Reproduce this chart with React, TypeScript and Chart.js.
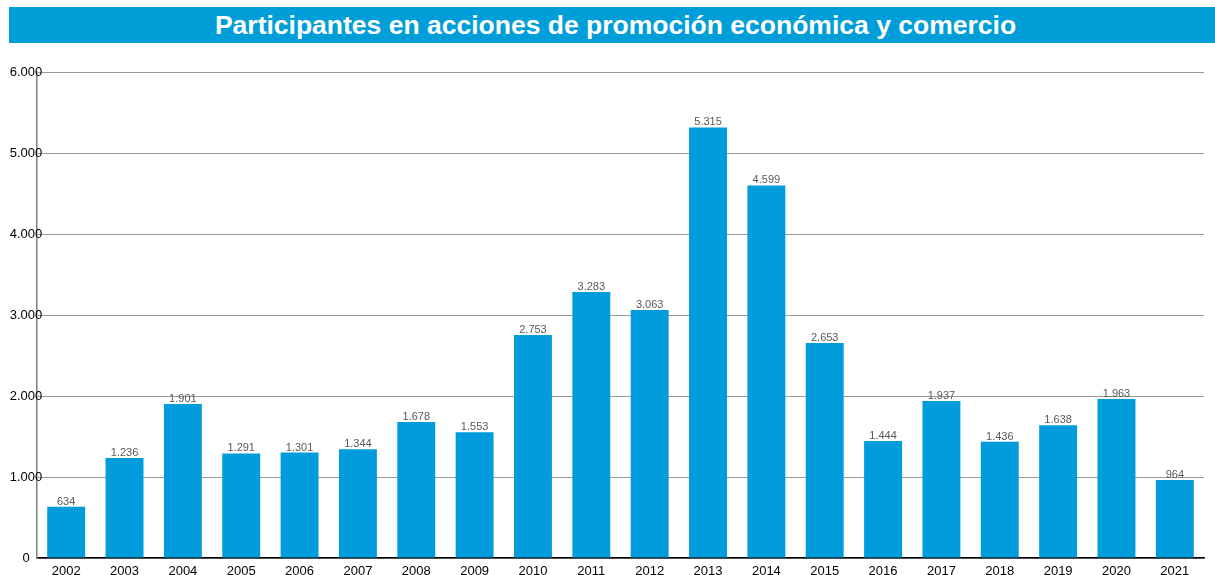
import React, { useEffect, useRef } from "react";
import { Chart, registerables } from "chart.js";

Chart.register(...registerables);

const TITLE = "Participantes en acciones de promoción económica y comercio";
const YEARS = ["2002","2003","2004","2005","2006","2007","2008","2009","2010","2011","2012","2013","2014","2015","2016","2017","2018","2019","2020","2021"];
const PARTICIPANTS = [634,1236,1901,1291,1301,1344,1678,1553,2753,3283,3063,5315,4599,2653,1444,1937,1436,1638,1963,964];
const Y_TICKS = [0,1000,2000,3000,4000,5000,6000];

const fmt = (v: number) => v.toString().replace(/\B(?=(\d{3})+(?!\d))/g, ".");

const FONT = "'Liberation Sans', Arial, sans-serif";

const valueLabels = {
  id: "valueLabels",
  afterDatasetsDraw(chart: any) {
    const ctx = chart.ctx;
    const meta = chart.getDatasetMeta(0);
    ctx.save();
    ctx.font = `11px ${FONT}`;
    ctx.fillStyle = "#595959";
    ctx.textAlign = "center";
    ctx.textBaseline = "alphabetic";
    meta.data.forEach((bar: any, i: number) => {
      ctx.fillText(fmt(PARTICIPANTS[i]), bar.x, bar.y - 2);
    });
    ctx.restore();
  },
};

const yLabels = {
  id: "yLabels",
  afterDraw(chart: any) {
    const ctx = chart.ctx;
    const y = chart.scales.y;
    ctx.save();
    ctx.font = `13px ${FONT}`;
    ctx.fillStyle = "#000000";
    ctx.textAlign = "center";
    ctx.textBaseline = "middle";
    Y_TICKS.forEach((v) => {
      ctx.fillText(fmt(v), 26, y.getPixelForValue(v));
    });
    ctx.restore();
  },
};

export default function App() {
  const ref = useRef<HTMLCanvasElement>(null);
  useEffect(() => {
    document.body.style.margin = "0";
    const chart = new Chart(ref.current!, {
      type: "bar",
      data: {
        labels: YEARS,
        datasets: [
          {
            data: PARTICIPANTS,
            backgroundColor: "#009cdc",
            categoryPercentage: 1,
            barPercentage: 0.65,
          },
        ],
      },
      plugins: [valueLabels, yLabels],
      options: {
        animation: false,
        responsive: false,
        maintainAspectRatio: false,
        layout: { padding: { left: 0, right: 11, top: 72, bottom: 22 } },
        plugins: { legend: { display: false }, tooltip: { enabled: false }, title: { display: false } },
        scales: {
          x: {
            grid: { display: false, drawTicks: false },
            border: { color: "#000000", width: 1.5 },
            ticks: { color: "#000000", font: { family: FONT, size: 13 }, padding: 6, maxRotation: 0, autoSkip: false },
            afterFit: (s: any) => { s.height = 20; },
          },
          y: {
            min: 0,
            max: 6000,
            afterBuildTicks: (s: any) => { s.ticks = Y_TICKS.map((v) => ({ value: v })); },
            grid: { color: "#9a9a9a", lineWidth: 1, drawTicks: false },
            border: { color: "#808080", width: 1.5 },
            ticks: { display: false },
            afterFit: (s: any) => { s.width = 37; },
          },
        },
      },
    } as any);
    return () => chart.destroy();
  }, []);
  return (
    <div style={{ position: "relative", width: 1215, height: 600 }}>
      <canvas ref={ref} width={1215} height={600} style={{ position: "absolute", left: 0, top: 0 }} />
      <div
        style={{
          position: "absolute",
          left: 9,
          top: 7,
          width: 1199,
          paddingLeft: 7,
          height: 36,
          background: "#009ed8",
          color: "#ffffff",
          fontFamily: FONT,
          fontWeight: "bold",
          fontSize: 26.5,
          lineHeight: "36px",
          textAlign: "center",
          whiteSpace: "nowrap",
        }}
      >
        {TITLE}
      </div>
    </div>
  );
}
